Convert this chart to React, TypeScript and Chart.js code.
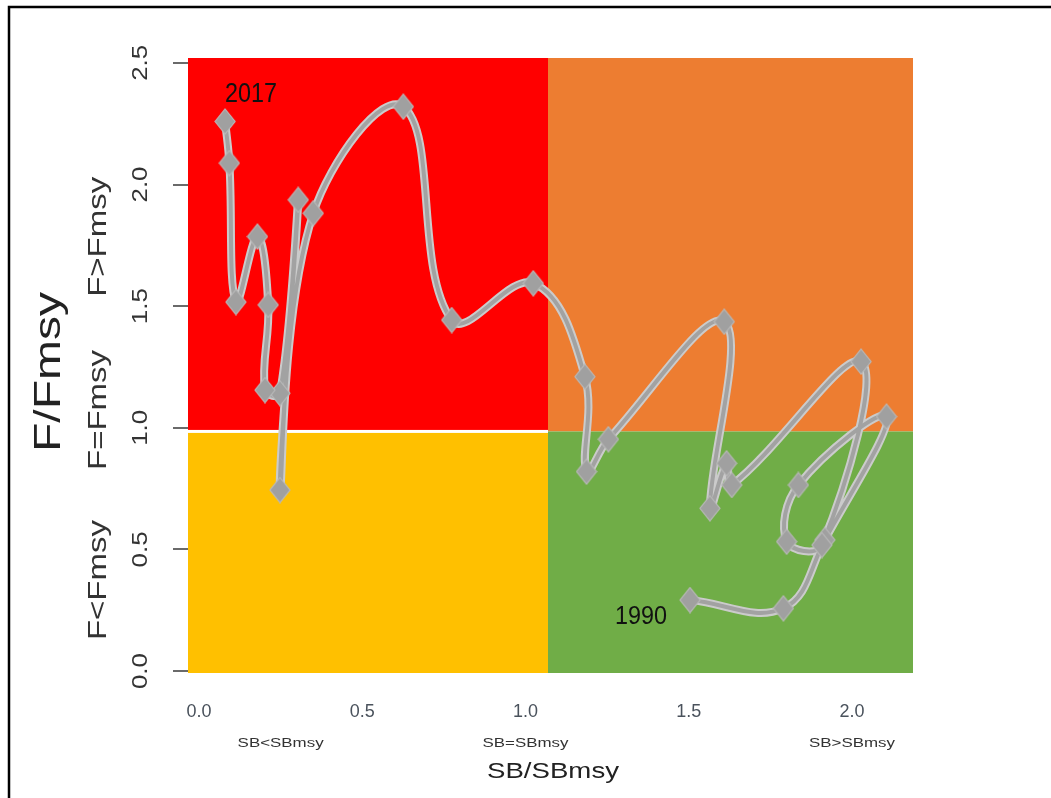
import React, { useEffect, useRef } from 'react';
import { Chart, registerables } from 'chart.js';

Chart.register(...registerables);

// ---- data (1990 -> 2017) ----
const years = [
  1990, 1991, 1992, 1993, 1994, 1995, 1996, 1997, 1998, 1999,
  2000, 2001, 2002, 2003, 2004, 2005, 2006, 2007, 2008, 2009,
  2010, 2011, 2012, 2013, 2014, 2015, 2016, 2017,
];
const sbRatio = [
  1.504, 1.790, 1.917, 2.106, 1.836, 1.800, 1.908, 2.028, 1.632, 1.616,
  1.565, 1.609, 1.254, 1.187, 1.182, 1.024, 0.774, 0.626, 0.350, 0.248,
  0.304, 0.248, 0.202, 0.212, 0.179, 0.113, 0.093, 0.080,
];
const fRatio = [
  0.292, 0.258, 0.539, 1.046, 0.765, 0.532, 0.518, 1.272, 0.765, 0.854,
  0.669, 1.436, 0.953, 0.820, 1.210, 1.594, 1.443, 2.320, 1.882, 0.744,
  1.937, 1.142, 1.155, 1.505, 1.786, 1.517, 2.088, 2.259,
];

const xTickValues = [0, 0.5, 1.0, 1.5, 2.0];
const yTickValues = [0, 0.5, 1.0, 1.5, 2.0, 2.5];
const xZoneLabels = ['SB<SBmsy', 'SB=SBmsy', 'SB>SBmsy'];
const xZonePos = [0.25, 1.0, 2.0];
const yZoneLabels = ['F<Fmsy', 'F=Fmsy', 'F>Fmsy'];
const yZonePos = [0.374, 1.073, 1.785];
const xTitle = 'SB/SBmsy';
const yTitle = 'F/Fmsy';

const sbBreak = 1.069;
const fBreak = 0.985;
const xMin = -0.0337;
const xMax = 2.187;
const yMin = -0.008;
const yMax = 2.52;

const COLORS = {
  red: '#FF0000',
  orange: '#ED7D31',
  yellow: '#FFC000',
  green: '#70AD47',
};

const FONT = '"Liberation Sans", Arial, sans-serif';

function fitText(
  ctx: CanvasRenderingContext2D,
  text: string,
  cx: number,
  cy: number,
  len: number,
  cap: number,
  rot: number,
  color: string,
) {
  const size = cap / 0.716;
  ctx.save();
  ctx.font = `${size}px ${FONT}`;
  const w = ctx.measureText(text).width;
  ctx.translate(cx, cy);
  ctx.rotate(rot);
  ctx.scale(len / w, 1);
  ctx.fillStyle = color;
  ctx.textAlign = 'center';
  ctx.textBaseline = 'alphabetic';
  ctx.fillText(text, 0, cap / 2);
  ctx.restore();
}

const quadrantPlugin = {
  id: 'quadrants',
  beforeDatasetsDraw(chart: any) {
    const { ctx, chartArea: a, scales } = chart;
    const xb = scales.x.getPixelForValue(sbBreak);
    const yb = scales.y.getPixelForValue(fBreak);
    ctx.save();
    ctx.fillStyle = COLORS.red;
    ctx.fillRect(a.left, a.top, xb - a.left, yb - a.top);
    ctx.fillStyle = COLORS.orange;
    ctx.fillRect(xb, a.top, a.right - xb, yb - a.top);
    ctx.fillStyle = COLORS.yellow;
    ctx.fillRect(a.left, yb, xb - a.left, a.bottom - yb);
    ctx.fillStyle = COLORS.green;
    ctx.fillRect(xb, yb, a.right - xb, a.bottom - yb);
    ctx.fillStyle = '#ffffff';
    ctx.fillRect(a.left, yb - 1.5, xb - a.left, 3);
    ctx.restore();
  },
};

const textPlugin = {
  id: 'texts',
  afterDraw(chart: any) {
    const { ctx, scales } = chart;
    const xs = scales.x;
    const ys = scales.y;
    // frame
    ctx.save();
    ctx.strokeStyle = '#000';
    ctx.lineWidth = 2.5;
    ctx.beginPath();
    ctx.moveTo(9, 800);
    ctx.lineTo(9, 7);
    ctx.lineTo(1060, 7);
    ctx.stroke();
    ctx.restore();

    // y tick labels
    ys.ticks.forEach((t: any) => {
      const p = ys.getPixelForValue(t.value);
      fitText(ctx, t.value.toFixed(1), 139, p, 36, 16, -Math.PI / 2, '#333');
    });
    // x tick labels
    xs.ticks.forEach((t: any) => {
      const p = xs.getPixelForValue(t.value);
      fitText(ctx, t.value.toFixed(1), p, 710, 25, 13, 0, '#4a525c');
    });
    // zone labels
    yZoneLabels.forEach((s, i) => {
      fitText(ctx, s, 97, ys.getPixelForValue(yZonePos[i]), 120, 18, -Math.PI / 2, '#333');
    });
    xZoneLabels.forEach((s, i) => {
      fitText(ctx, s, xs.getPixelForValue(xZonePos[i]), 742, 86, 9, 0, '#333');
    });
    // titles
    fitText(ctx, yTitle, 46, 372, 160, 27, -Math.PI / 2, '#222');
    fitText(ctx, xTitle, 553, 770, 132, 16, 0, '#222');

    // year labels
    const first = { x: xs.getPixelForValue(sbRatio[0]), y: ys.getPixelForValue(fRatio[0]) };
    const n = sbRatio.length - 1;
    const last = { x: xs.getPixelForValue(sbRatio[n]), y: ys.getPixelForValue(fRatio[n]) };
    fitText(ctx, String(years[n]), last.x + 26, last.y - 29, 52, 20, 0, '#111');
    fitText(ctx, String(years[0]), first.x - 49, first.y + 14, 52, 19, 0, '#111');
  },
};

function makeDiamond(): HTMLCanvasElement {
  const c = document.createElement('canvas');
  const w = 22;
  const h = 27;
  c.width = w;
  c.height = h;
  const g = c.getContext('2d')!;
  g.beginPath();
  g.moveTo(w / 2, 1);
  g.lineTo(w - 1, h / 2);
  g.lineTo(w / 2, h - 1);
  g.lineTo(1, h / 2);
  g.closePath();
  g.fillStyle = '#a0a0a0';
  g.fill();
  g.strokeStyle = '#b9b9b9';
  g.lineWidth = 1.2;
  g.stroke();
  return c;
}

export default function App() {
  const ref = useRef<HTMLCanvasElement | null>(null);

  useEffect(() => {
    document.body.style.margin = '0';
    const canvas = ref.current!;
    const pts = sbRatio.map((x, i) => ({ x, y: fRatio[i] }));
    const diamond = makeDiamond();
    const chart = new Chart(canvas, {
      type: 'scatter',
      data: {
        datasets: [
          {
            data: pts,
            showLine: true,
            borderColor: '#cbcbcb',
            borderWidth: 8,
            tension: 0.4,
            pointRadius: 0,
            order: 2,
          },
          {
            data: pts,
            showLine: true,
            borderColor: '#a2a2a2',
            borderWidth: 4,
            tension: 0.4,
            pointStyle: diamond as any,
            pointRadius: 10,
            order: 1,
          },
        ],
      },
      options: {
        responsive: false,
        animation: false,
        devicePixelRatio: 1,
        layout: { padding: { top: 58, right: 138, bottom: 0, left: 0 } },
        plugins: {
          legend: { display: false },
          tooltip: { enabled: false },
          title: { display: false },
        },
        scales: {
          x: {
            type: 'linear',
            min: xMin,
            max: xMax,
            grid: { display: false },
            border: { display: false },
            ticks: { display: false },
            afterBuildTicks: (s: any) => {
              s.ticks = xTickValues.map((v) => ({ value: v }));
            },
            afterFit: (s: any) => {
              s.height = 125;
            },
          },
          y: {
            type: 'linear',
            min: yMin,
            max: yMax,
            grid: {
              display: true,
              drawOnChartArea: false,
              drawTicks: true,
              tickLength: 15,
              color: '#6a6a6a',
              lineWidth: 2,
            },
            border: { display: false },
            ticks: { display: false },
            afterBuildTicks: (s: any) => {
              s.ticks = yTickValues.map((v) => ({ value: v }));
            },
            afterFit: (s: any) => {
              s.width = 188;
            },
          },
        },
      },
      plugins: [quadrantPlugin, textPlugin],
    });
    return () => chart.destroy();
  }, []);

  return (
    <canvas
      ref={ref}
      width={1051}
      height={798}
      style={{ position: 'fixed', left: 0, top: 0, width: 1051, height: 798, display: 'block', background: '#fff' }}
    />
  );
}
